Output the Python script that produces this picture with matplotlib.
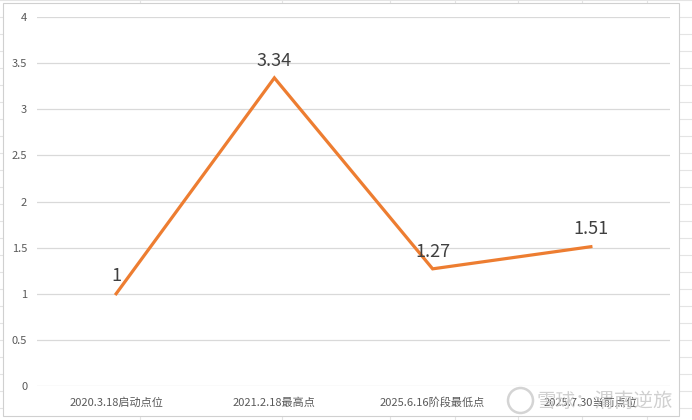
import matplotlib.pyplot as plt
from matplotlib.lines import Line2D
from matplotlib.patches import Rectangle

plt.rcParams['font.family'] = ['Noto Sans CJK SC', 'DejaVu Sans']

# data
categories = ['2020.3.18启动点位', '2021.2.18最高点', '2025.6.16阶段最低点', '2025.7.30当前点位']
values = [1, 3.34, 1.27, 1.51]
value_labels = ['1', '3.34', '1.27', '1.51']
yticks = [0, 0.5, 1, 1.5, 2, 2.5, 3, 3.5, 4]

W, H = 692, 420
fig = plt.figure(figsize=(W / 100, H / 100), dpi=100)

# spreadsheet cell grid behind the chart
grid_c = '#e4e4e4'
for x in [140, 282, 390, 455, 518, 582, 647]:
    fig.add_artist(Line2D([x / W, x / W], [0, 1], color=grid_c, lw=0.8, zorder=-3))
for y in range(0, H, 17):
    fig.add_artist(Line2D([0, 1], [1 - y / H, 1 - y / H], color=grid_c, lw=0.8, zorder=-3))
fig.add_artist(Rectangle((3 / W, 4 / H), 676 / W, 413 / H, facecolor='white',
                         edgecolor='#d0d0d0', lw=0.8, zorder=-2))

ax = fig.add_axes([37 / W, 34 / H, 633 / W, 369 / H])
ax.set_facecolor('none')
x = range(len(categories))
ax.plot(x, values, color='#ED7D31', lw=2.3, solid_joinstyle='miter', zorder=3)
for xi, v, lab in zip(x, values, value_labels):
    ax.annotate(lab, (xi, v), xytext=(0, 6), textcoords='offset points',
                ha='center', va='bottom', fontsize=13, color='#404040')

ax.set_xlim(-0.5, len(categories) - 0.5)
ax.set_ylim(0, 4)
ax.set_yticks(yticks)
ax.set_yticklabels([f'{t:g}' for t in yticks])
ax.set_xticks(list(x))
ax.set_xticklabels(categories)
ax.tick_params(length=0, labelsize=8, colors='#595959')
ax.tick_params(axis='y', pad=7)
ax.tick_params(axis='x', pad=8)
ax.grid(axis='y', color='#d9d9d9', lw=0.9)
for s in ax.spines.values():
    s.set_visible(False)

# watermark
fig.add_artist(Line2D([520 / W], [1 - 400 / H], marker='o', ms=18, mfc='none',
                      mec='#d4d4d4', mew=1.8, linestyle='none'))
fig.text(537 / W, 1 - 401 / H, '雪球：渭南逆旅', fontsize=14, color='#c8c8c8',
         ha='left', va='center', alpha=0.85)

fig.savefig('out.png', dpi=100)
